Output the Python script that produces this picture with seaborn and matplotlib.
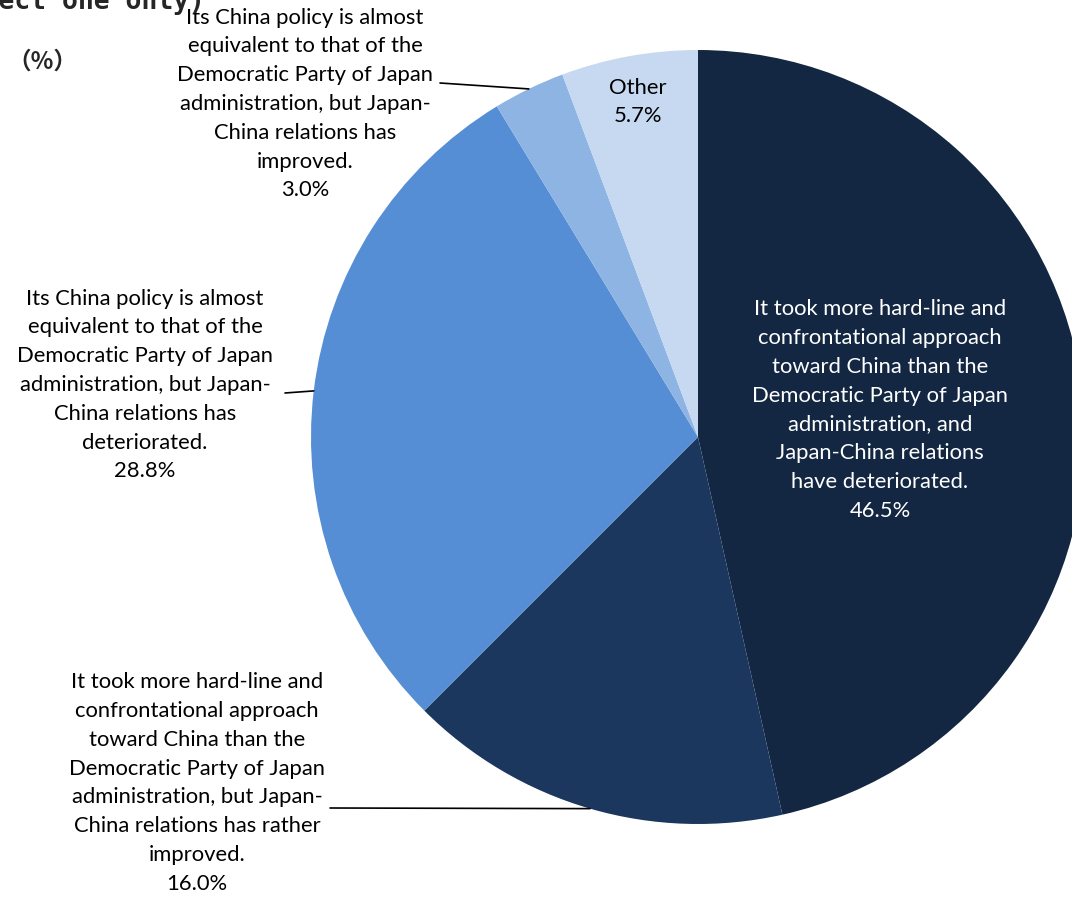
import numpy as np
import seaborn as sns
import matplotlib.pyplot as plt

sns.set_theme(style="white")
plt.rcParams['font.family'] = ['Lato', 'Noto Sans CJK JP', 'DejaVu Sans']

labels = [
    "It took more hard-line and\nconfrontational approach\ntoward China than the\nDemocratic Party of Japan\nadministration, and\nJapan-China relations\nhave deteriorated.",
    "It took more hard-line and\nconfrontational approach\ntoward China than the\nDemocratic Party of Japan\nadministration, but Japan-\nChina relations has rather\nimproved.",
    "Its China policy is almost\nequivalent to that of the\nDemocratic Party of Japan\nadministration, but Japan-\nChina relations has\ndeteriorated.",
    "Its China policy is almost\nequivalent to that of the\nDemocratic Party of Japan\nadministration, but Japan-\nChina relations has\nimproved.",
    "Other",
]
values = [46.5, 16.0, 28.8, 3.0, 5.7]
colors = ["#132742", "#1b375e", "#558ed5", "#8eb4e3", "#c6d9f1"]

W, H = 1072, 900
cx, cy, R = 698, 437, 387

fig = plt.figure(figsize=(W / 100, H / 100), dpi=100)
ax = fig.add_axes([(cx - R) / W, 1 - (cy + R) / H, 2 * R / W, 2 * R / H])
wedges, _ = ax.pie(values, colors=colors, startangle=90, counterclock=False,
                   wedgeprops=dict(linewidth=0))
ax.set_xlim(-1, 1)
ax.set_ylim(-1, 1)
ax.set_aspect("equal")
ax.axis("off")


def to_data(px, py):
    return (px - cx) / R, (cy - py) / R


# label centres (pixels) and leader-line starts
label_pos = [(880, 410), (197, 783), (145, 385), (305, 104), (638, 102)]
text_colors = ["white", "black", "black", "black", "black"]
line_start = [None, (330, 808), (285, 393), (440, 83), None]

cum = np.cumsum([0] + values[:-1])
for i, v in enumerate(values):
    x, y = to_data(*label_pos[i])
    ax.text(x, y, f"{labels[i]}\n{v:.1f}%", ha="center", va="center",
            fontsize=15.8, color=text_colors[i], linespacing=1.55, clip_on=False)
    if line_start[i] is not None:
        ang = np.deg2rad(90 - (cum[i] + v / 2) / 100 * 360)
        ex, ey = np.cos(ang), np.sin(ang)
        sx, sy = to_data(*line_start[i])
        ax.plot([sx, ex], [sy, ey], color="black", lw=1.2, clip_on=False)

fig.text(205 / W, 1 - 9 / H, "(Select one only)", ha="right", va="baseline",
         fontsize=19, fontweight="bold", family=["DejaVu Sans Mono"])
fig.text(42 / W, 1 - 62 / H, "（%）", ha="center", va="center",
         fontsize=17, fontweight="bold", family=["Noto Sans CJK JP", "DejaVu Sans"])

fig.savefig("out.png", dpi=100)
